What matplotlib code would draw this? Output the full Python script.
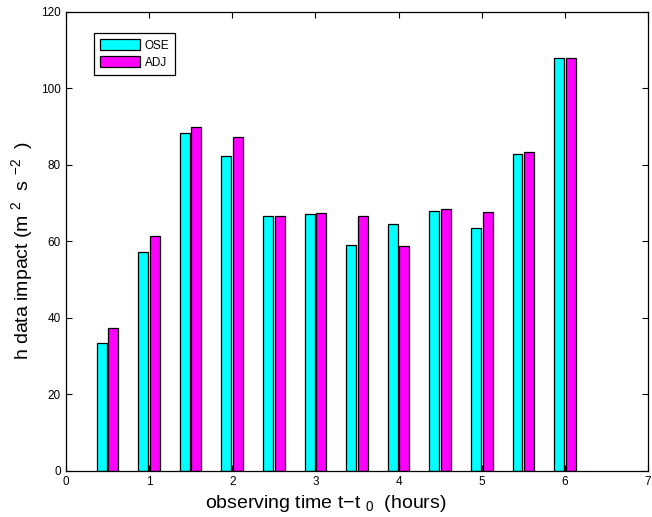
import matplotlib
matplotlib.use("Agg")
import matplotlib.pyplot as plt
import numpy as np

plt.rcParams['font.family'] = ['Liberation Sans', 'DejaVu Sans']
plt.rcParams['mathtext.default'] = 'regular'

times = [0.5, 1.0, 1.5, 2.0, 2.5, 3.0, 3.5, 4.0, 4.5, 5.0, 5.5, 6.0]
ose = [33.5, 57.2, 88.4, 82.2, 66.6, 67.2, 59.0, 64.5, 67.8, 63.5, 82.8, 107.9]
adj = [37.4, 61.4, 89.9, 87.2, 66.7, 67.5, 66.6, 58.9, 68.5, 67.6, 83.4, 107.9]
xticks = [0, 1, 2, 3, 4, 5, 6, 7]
yticks = [0, 20, 40, 60, 80, 100, 120]

fig = plt.figure(figsize=(6.52, 5.17), dpi=100)
ax = fig.add_axes([0.101, 0.0895, 0.893, 0.8875])

x = np.array(times)
w = 0.12
ax.bar(x - 0.07, ose, width=w, color='#00FFFF', edgecolor='black', linewidth=0.9, label='OSE')
ax.bar(x + 0.07, adj, width=w, color='#FF00FF', edgecolor='black', linewidth=0.9, label='ADJ')

ax.set_xlim(0, 7)
ax.set_ylim(0, 120)
ax.set_xticks(xticks)
ax.set_yticks(yticks)
ax.tick_params(direction='in', top=True, right=True, labelsize=8.5, length=4, width=0.8)
for s in ax.spines.values():
    s.set_linewidth(0.9)

ax.set_xlabel('observing time t\u2212t $_0$  (hours)', fontsize=14)
ax.xaxis.set_label_coords(0.447, -0.049)
ax.set_ylabel('h data impact (m $^2$  s $^{-2}$  )', fontsize=14)
ax.yaxis.set_label_coords(-0.053, 0.481)

leg = ax.legend(loc='upper left', bbox_to_anchor=(0.049, 0.953), fontsize=8.5,
                fancybox=False, framealpha=1, edgecolor='black',
                handlelength=3.4, handleheight=1.0, borderpad=0.5,
                labelspacing=0.4, handletextpad=0.35, borderaxespad=0)
leg.get_frame().set_linewidth(0.9)

fig.savefig('out.png', dpi=100)
